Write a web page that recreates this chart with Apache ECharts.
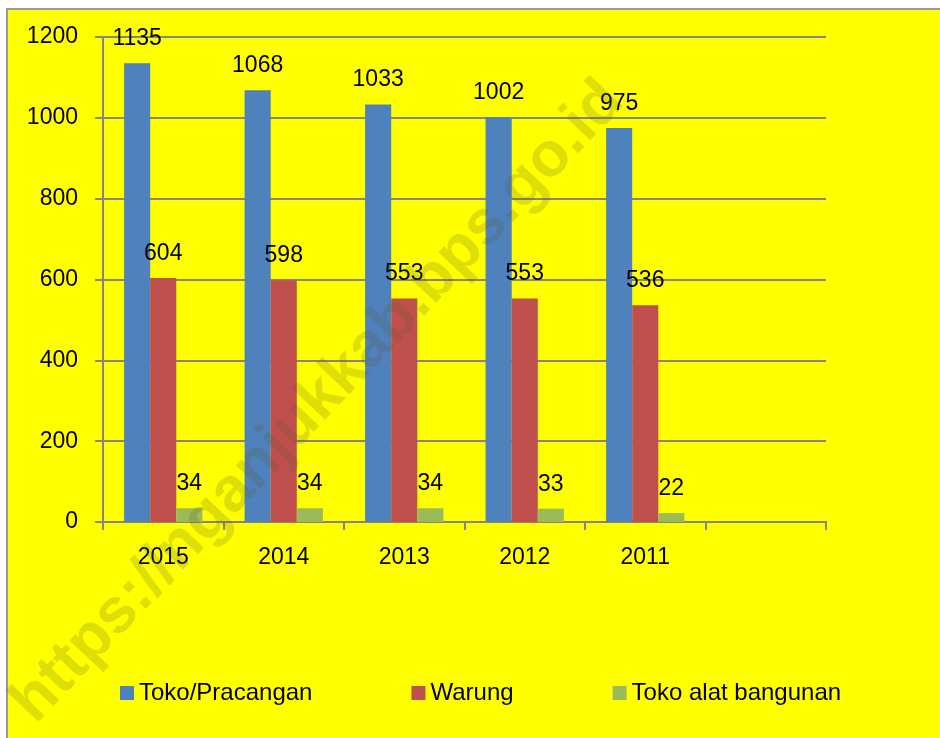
<!DOCTYPE html>
<html>
<head>
<meta charset="utf-8">
<script src="https://cdn.jsdelivr.net/npm/echarts@6/dist/echarts.min.js"></script>
<style>
  html, body { margin: 0; padding: 0; background: #fff; }
  #chart { width: 940px; height: 738px; }
</style>
</head>
<body>
<div id="chart"></div>
<script>
// data
var years = ['2015', '2014', '2013', '2012', '2011', '']
var tokoPracangan = [1135, 1068, 1033, 1002, 975, null]
var warung = [604, 598, 553, 553, 536, null]
var tokoAlat = [34, 34, 34, 33, 22, null]
var seriesNames = ['Toko/Pracangan', 'Warung', 'Toko alat bangunan']

var font = 'Liberation Sans, Arial, sans-serif'
var chart = echarts.init(document.getElementById('chart'))

function barSeries (name, data, color) {
  return {
    name: name,
    type: 'bar',
    data: data,
    barGap: 0,
    barCategoryGap: '35%',
    itemStyle: { color: color },
    label: {
      show: true,
      position: 'top',
      distance: 13,
      color: '#000',
      fontSize: 23,
      fontFamily: font
    }
  }
}

chart.setOption({
  backgroundColor: '#fff',
  animation: false,
  graphic: [
    {
      type: 'rect',
      z: -10,
      shape: { x: 7, y: 9, width: 940, height: 740 },
      style: { fill: '#ffff00', stroke: '#9a9a9a', lineWidth: 2 }
    },
    {
      // watermark
      type: 'text',
      z: 100,
      x: 318,
      y: 402,
      rotation: 46.5 * Math.PI / 180,
      style: {
        text: 'https://nganjukkab.bps.go.id',
        fill: 'rgba(90,90,40,0.2)',
        font: 'bold 63px Liberation Sans, Arial, sans-serif',
        textAlign: 'center',
        textVerticalAlign: 'middle'
      }
    }
  ],
  legend: {
    left: 115,
    top: 676,
    itemWidth: 14,
    itemHeight: 14,
    itemGap: 99,
    icon: 'rect',
    textStyle: { color: '#000', fontSize: 24, fontFamily: font },
    data: seriesNames
  },
  grid: {
    left: 103,
    right: 114,
    top: 37,
    bottom: 216
  },
  xAxis: {
    type: 'category',
    data: years,
    axisLine: { lineStyle: { color: '#868686', width: 2 } },
    axisTick: { show: true, length: 8, lineStyle: { color: '#868686', width: 2 } },
    axisLabel: { color: '#000', fontSize: 23, fontFamily: font, margin: 24 }
  },
  yAxis: {
    type: 'value',
    min: 0,
    max: 1200,
    interval: 200,
    axisLine: { show: true, lineStyle: { color: '#868686', width: 2 } },
    axisTick: { show: true, length: 8, lineStyle: { color: '#868686', width: 2 } },
    axisLabel: {
      color: '#000',
      fontSize: 23,
      fontFamily: font,
      margin: 25,
      formatter: function (v) { return String(v) }
    },
    splitLine: { show: true, lineStyle: { color: '#868686', width: 2 } }
  },
  series: [
    barSeries(seriesNames[0], tokoPracangan, '#4f81bd'),
    barSeries(seriesNames[1], warung, '#c0504d'),
    barSeries(seriesNames[2], tokoAlat, '#9bbb59')
  ]
})
</script>
</body>
</html>
